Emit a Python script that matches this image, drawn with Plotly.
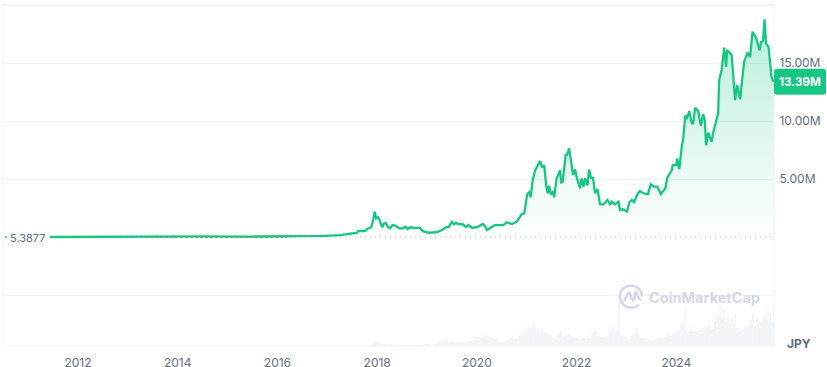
import plotly.graph_objects as go

# Price history (decimal year, million JPY)
years = [2011.44,2013.44,2013.91,2014.45,2015.45,2016.45,2016.95,2017.26,2017.46,2017.60,2017.62,2017.76,2017.80,2017.88,2017.92,2017.95,2017.98,2018.02,2018.06,2018.10,2018.14,2018.18,2018.21,2018.26,2018.31,2018.36,2018.44,2018.52,2018.57,2018.61,2018.67,2018.74,2018.86,2018.91,2019.03,2019.19,2019.30,2019.38,2019.44,2019.50,2019.54,2019.58,2019.62,2019.72,2019.78,2019.83,2019.90,2020.00,2020.12,2020.16,2020.20,2020.26,2020.36,2020.53,2020.60,2020.70,2020.80,2020.90,2020.95,2021.01,2021.05,2021.08,2021.12,2021.17,2021.21,2021.27,2021.31,2021.35,2021.39,2021.42,2021.45,2021.48,2021.52,2021.55,2021.60,2021.67,2021.69,2021.72,2021.78,2021.81,2021.85,2021.88,2021.93,2021.97,2022.00,2022.07,2022.10,2022.14,2022.17,2022.22,2022.25,2022.29,2022.33,2022.37,2022.42,2022.47,2022.54,2022.62,2022.67,2022.71,2022.77,2022.84,2022.87,2022.93,2023.01,2023.06,2023.11,2023.15,2023.22,2023.27,2023.34,2023.43,2023.49,2023.55,2023.62,2023.69,2023.78,2023.82,2023.91,2023.93,2024.00,2024.02,2024.06,2024.11,2024.14,2024.18,2024.21,2024.26,2024.31,2024.34,2024.38,2024.44,2024.49,2024.54,2024.57,2024.60,2024.64,2024.71,2024.74,2024.84,2024.86,2024.91,2024.96,2025.00,2025.02,2025.11,2025.18,2025.22,2025.28,2025.36,2025.43,2025.48,2025.53,2025.60,2025.67,2025.70,2025.74,2025.77,2025.80,2025.85,2025.89,2025.91,2025.95]
price_m = [0.0,0.04,0.11,0.06,0.04,0.06,0.09,0.17,0.32,0.37,0.52,0.52,0.69,0.84,1.47,2.18,1.61,1.70,1.32,0.84,1.18,1.18,0.89,0.75,1.03,0.99,0.75,0.75,0.89,0.69,0.84,0.78,0.78,0.52,0.37,0.41,0.60,0.84,0.89,1.32,1.09,1.23,1.12,1.09,0.86,1.03,0.80,0.84,1.12,0.95,0.60,0.75,1.03,1.03,1.27,1.12,1.32,1.98,2.04,3.69,3.86,3.43,4.91,5.77,6.06,6.55,6.0,6.2,4.48,3.77,4.43,3.69,3.86,3.43,5.04,5.77,4.7,4.72,7.07,7.1,7.65,6.79,5.34,5.83,5.2,4.2,5.06,4.34,5.06,4.46,5.83,5.1,5.1,3.77,4.14,2.82,2.82,3.2,2.82,3.04,2.82,3.04,2.33,2.39,2.19,3.0,3.2,3.0,3.69,3.97,3.77,3.69,4.55,4.34,4.34,3.71,4.2,5.11,5.77,6.2,6.2,6.77,5.86,7.79,8.5,10.5,10.17,10.86,9.8,9.8,11.15,10.86,9.6,10.58,10.1,7.9,8.99,8.2,8.99,10.66,13.53,14.4,16.32,14.68,16.12,15.7,11.8,13.1,11.87,15.1,15.9,15.5,17.7,17.2,16.1,16.8,16.9,18.76,16.7,16.4,14.25,13.8,13.39]

# Volume: broad body, one value every 0.06 years from 2017.88
vol_body = [1,3.5,4,3.5,2,1,2,2,1,1,1,1,1,1,1,1,1,1,1.5,1.5,1,2,2.5,4,4.5,6,4.5,5,4.5,3.5,4,4,4,5,6,10,9,9,11,10,9,8,7,4,3.5,5,7,9,7,8,11,14,16,18,20,16,15,16,15,13,11,8,7,12,9,10,11,10,9,8,7,8,7,8,13,14,10,9,9,10,15,13,16,12,10,9,8,10,13,9,8,8,7,7,6,7,9,8,9,13,10,12,14,16,22,16,14,15,14,15,16,18,20,15,17,25,30,28,24,24,22,28,18,15,16,18,20,26,20,22,24,26,30,28,25]
vol_start = 2017.88
vol_step = 0.06
vol_years = [vol_start + i * vol_step for i in range(len(vol_body))]
# Volume: isolated narrow spikes
spike_years = [2021.03,2021.15,2021.31,2021.69,2022.35,2022.73,2022.85,2023.21,2024.18,2024.28,2024.66,2024.82,2024.88,2024.96,2025.04,2025.12,2025.18,2025.54,2025.62,2025.76,2025.84,2025.90]
spike_vals = [19,25,18,16,18,20,45,18,37,22,24,32,40,37,30,28,33,33,27,32,40,33]

x_ticks = [2012,2014,2016,2018,2020,2022,2024]
x_labels = ["2012","2014","2016","2018","2020","2022","2024"]
y_ticks = [-5,5,10,15,20]
y_labels = ["","5.00M","10.00M","15.00M",""]
base_value = 5.3877e-6
last_value = 13.39
red_years = [2011.44, 2016.2]

GREEN = "#16c784"
GRID = "#eff2f5"
TEXT = "#616e85"
MARK = "#d3d9e6"
FONT = "Inter"

fig = go.Figure()
fig.add_bar(x=vol_years, y=vol_body, width=vol_step, yaxis="y2",
            marker=dict(color="#f2f4f7", line_width=0), hoverinfo="skip")
fig.add_bar(x=spike_years, y=spike_vals, width=0.025, yaxis="y2",
            marker=dict(color="#f4f5f8", line_width=0), hoverinfo="skip")
fig.add_scatter(x=[years[0], 2025.96], y=[base_value, base_value], mode="lines",
                line=dict(color="#a6b0c3", width=1, dash="1px 4px"), hoverinfo="skip")
fig.add_scatter(x=red_years, y=[-0.04, -0.04], mode="lines",
                line=dict(color="rgba(234,57,67,0.7)", width=1, dash="3px 2px"), hoverinfo="skip")
fig.add_scatter(x=years, y=price_m, mode="lines", line=dict(color=GREEN, width=2.3),
                fill="tozeroy",
                fillgradient=dict(type="vertical",
                                  colorscale=[[0, "rgba(22,199,132,0)"], [1, "rgba(22,199,132,0.30)"]]),
                hoverinfo="skip")

box = dict(type="line", line=dict(color=GRID, width=1), layer="below")
shapes = [
    dict(box, xref="paper", yref="paper", x0=0, x1=1, y0=1, y1=1),
    dict(box, xref="paper", yref="paper", x0=0, x1=1, y0=0, y1=0),
    dict(box, xref="paper", yref="paper", x0=0, x1=0, y0=0, y1=1),
    dict(box, xref="paper", yref="paper", x0=1, x1=1, y0=0, y1=1),
    # last price badge
    dict(type="path", xref="paper", yref="y", xsizemode="pixel", ysizemode="pixel",
         xanchor=1.0, yanchor=last_value,
         path="M 3,-13 L 49,-13 Q 52,-13 52,-10 L 52,10 Q 52,13 49,13 L 3,13 Q 0,13 0,10 L 0,-10 Q 0,-13 3,-13 Z",
         fillcolor=GREEN, line_width=0, layer="above"),
    # base marker
    dict(type="line", xref="paper", yref="y", x0=0.0025, x1=0.0052, y0=base_value, y1=base_value,
         line=dict(color=GREEN, width=1.5), layer="above"),
    # watermark logo
    dict(type="path", xref="paper", yref="paper", xsizemode="pixel", ysizemode="pixel",
         xanchor=0.8145, yanchor=0.1447,
         path=("M 11,0 C 11,6.07 6.07,11 0,11 C -6.07,11 -11,6.07 -11,0 C -11,-6.07 -6.07,-11 0,-11 C 3,-11 6,-10 8,-8 "
               "M -7,-5 L -3,3 Q -2,5 -1,3 L 1,-3 Q 2,-5 3,-3 L 4,3 Q 5,5 6,3 L 7,-1 Q 8,-3 10,-3"),
         line=dict(color=MARK, width=2.5), fillcolor="rgba(0,0,0,0)", layer="above"),
]

annotations = [
    dict(xref="paper", yref="y", x=1.0, y=last_value, xanchor="center", yanchor="middle", xshift=26,
         text="<b>13.39M</b>", showarrow=False, font=dict(family=FONT, size=11.7, color="white")),
    dict(xref="paper", yref="y", x=0.0, y=base_value, xanchor="left", yanchor="middle", xshift=5, yshift=-1,
         text="5.3877", showarrow=False, font=dict(family=FONT, size=11, color=TEXT)),
    dict(xref="paper", yref="paper", x=1.0, y=0, xanchor="center", yanchor="middle", xshift=25, yshift=3,
         text="<b>JPY</b>", showarrow=False, font=dict(family=FONT, size=12, color=TEXT)),
    dict(xref="paper", yref="paper", x=0.8145, y=0.1415, xanchor="left", yanchor="middle", xshift=16,
         text="<b>CoinMarketCap</b>", showarrow=False, font=dict(family=FONT, size=14.5, color=MARK)),
]

fig.update_layout(
    width=827, height=367, margin=dict(l=3, r=53, t=4, b=21),
    paper_bgcolor="white", plot_bgcolor="white", showlegend=False, barmode="overlay", bargap=0,
    font=dict(family=FONT, size=12, color=TEXT),
    xaxis=dict(range=[2010.495, 2025.96], tickmode="array", tickvals=x_ticks, ticktext=x_labels,
               showgrid=False, zeroline=False, showline=False, ticks="outside", ticklen=6, automargin=False,
               tickcolor="rgba(0,0,0,0)", tickfont=dict(family=FONT, size=12, color=TEXT)),
    yaxis=dict(range=[-9.397, 20.09], side="right", tickmode="array", tickvals=y_ticks, ticktext=y_labels,
               showgrid=True, gridcolor=GRID, gridwidth=1, zeroline=False, showline=False, automargin=False,
               ticks="outside", ticklen=2, tickcolor="rgba(0,0,0,0)",
               tickfont=dict(family=FONT, size=12, color=TEXT)),
    yaxis2=dict(range=[0, 342], overlaying="y", visible=False, fixedrange=True),
    shapes=shapes, annotations=annotations,
)

fig.write_html("out.html", config={"displayModeBar": False},
               post_script="document.body.style.margin='0';")
